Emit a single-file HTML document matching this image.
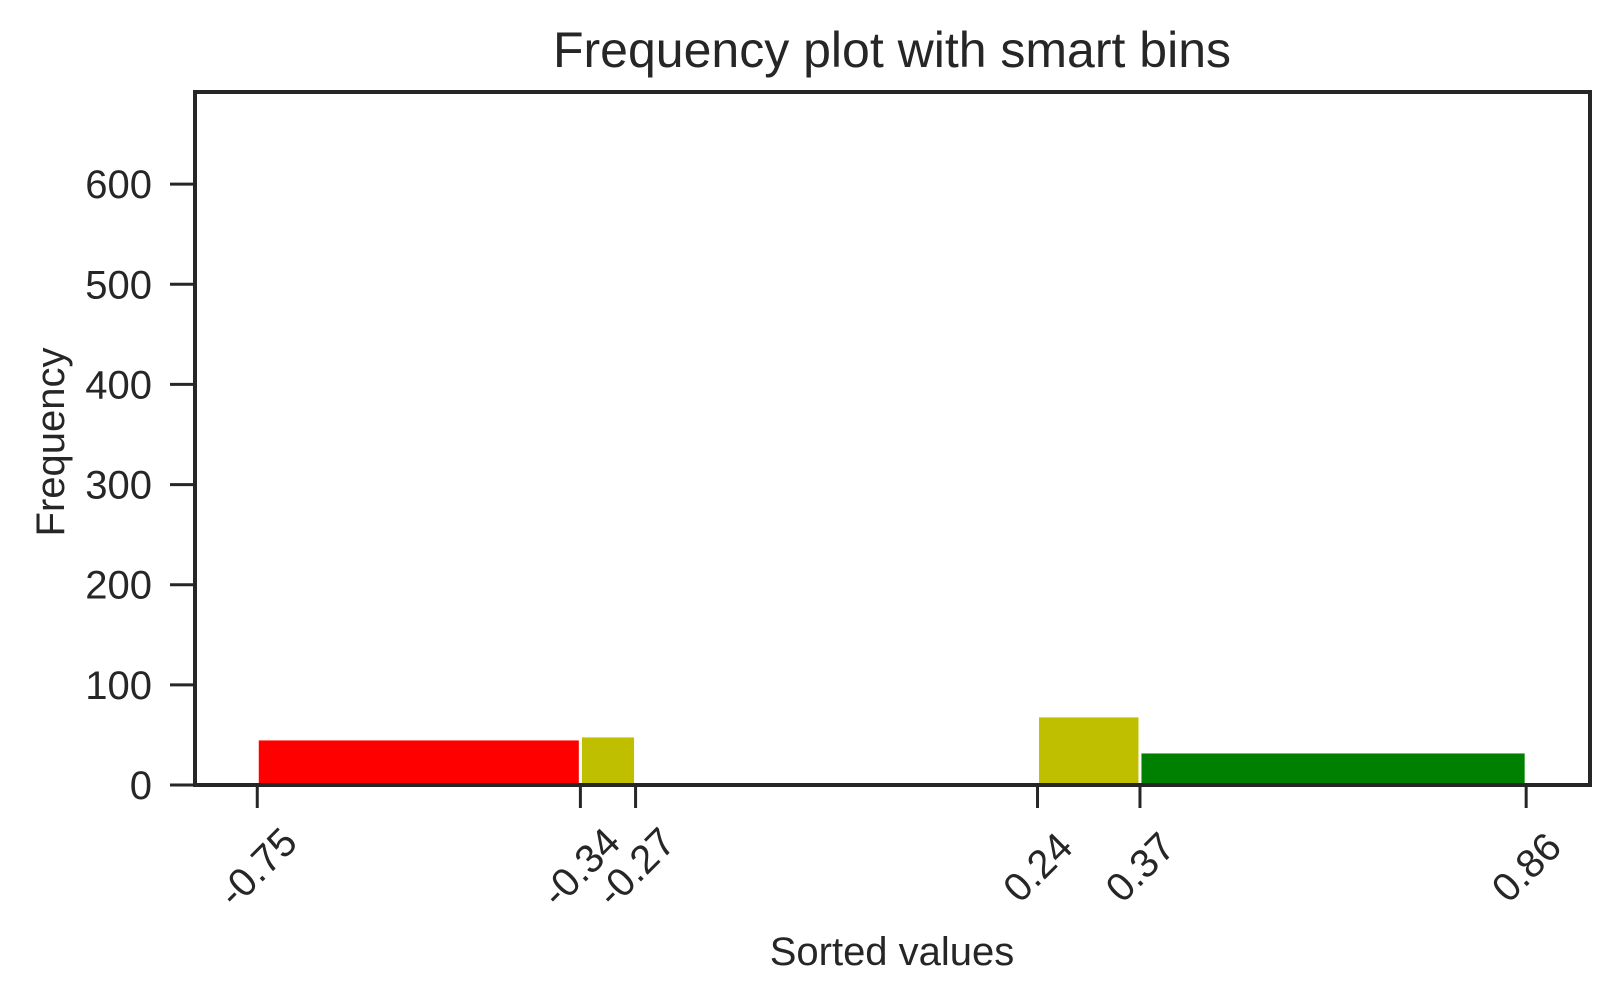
<!DOCTYPE html>
<html><head><meta charset="utf-8"><style>
body{margin:0;background:#fff;}
svg text{font-family:"Liberation Sans",Arial,sans-serif;fill:#262626;}
</style></head><body>
<svg id="chart" width="1619" height="1002">
<text x="892" y="67" font-size="50" text-anchor="middle">Frequency plot with smart bins</text>
<g id="bars"></g>
<g id="yticks"></g>
<g id="xticks"></g>
<rect x="195" y="92" width="1395" height="693" fill="none" stroke="#262626" stroke-width="4"/>
<text x="892" y="965" font-size="40" text-anchor="middle">Sorted values</text>
<text transform="translate(64,442) rotate(-90)" font-size="40" text-anchor="middle">Frequency</text>
</svg>
<script>
const binEdges=[-0.75,-0.34,-0.27,0.24,0.37,0.86];
const binCounts=[46,49,0,69,33];
const binColors=['#ff0000','#bfbf00',null,'#bfbf00','#008000'];
const yTicks=[0,100,200,300,400,500,600];
const xTickLabels=['-0.75','-0.34','-0.27','0.24','0.37','0.86'];
const L=195,R=1590,T=92,B=785,xmin=-0.829,xmax=0.941,ymax=692;
const ns='http://www.w3.org/2000/svg';
const X=v=>L+(v-xmin)/(xmax-xmin)*(R-L);
const Y=v=>B-v/ymax*(B-T);
function mk(t,a,p){const e=document.createElementNS(ns,t);for(const k in a)e.setAttribute(k,a[k]);p.appendChild(e);return e;}
const bars=document.getElementById('bars');
binCounts.forEach((c,i)=>{if(!binColors[i]||c<=0)return;
const x0=X(binEdges[i]),x1=X(binEdges[i+1]);
const r=mk('rect',{x:x0,y:Y(c),width:x1-x0,height:B-Y(c),fill:binColors[i],stroke:'#fff','stroke-width':3},bars);

});
const yg=document.getElementById('yticks');
yTicks.forEach(v=>{const y=Y(v);
const l=mk('line',{x1:L-25,x2:L,y1:y,y2:y,stroke:'#262626','stroke-width':3},yg);


const t=mk('text',{x:L-43,y:y+14,'font-size':40,'text-anchor':'end'},yg);t.textContent=v;

});
const xg=document.getElementById('xticks');
binEdges.forEach((v,i)=>{const x=X(v);
const l=mk('line',{x1:x,x2:x,y1:B,y2:B+23,stroke:'#262626','stroke-width':3},xg);


const t=mk('text',{transform:`translate(${x},${B+82}) rotate(-45)`,y:14,'font-size':40,'text-anchor':'middle'},xg);t.textContent=xTickLabels[i];

});
</script>
</body></html>
